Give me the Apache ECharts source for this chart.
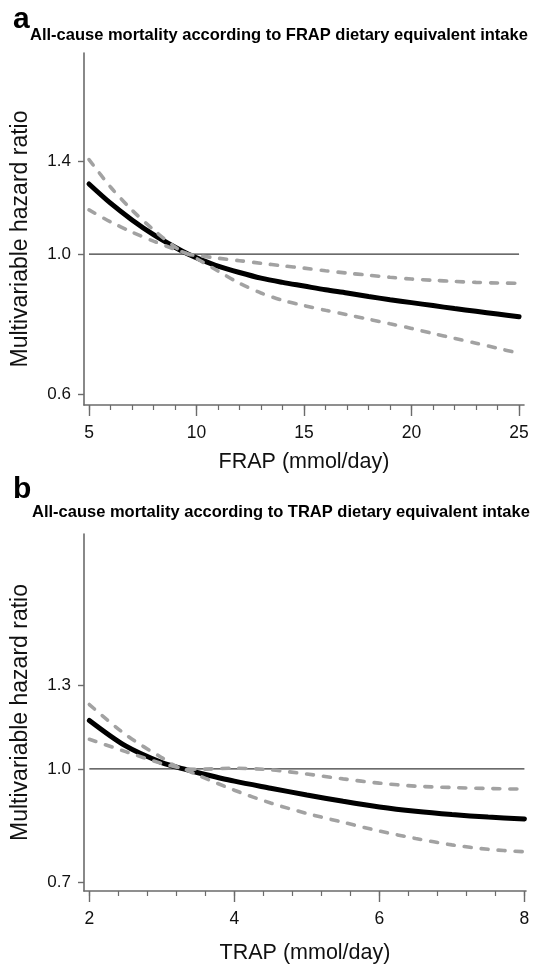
<!DOCTYPE html>
<html><head><meta charset="utf-8">
<script src="https://cdn.jsdelivr.net/npm/echarts@6/dist/echarts.min.js"></script>
<style>html,body{margin:0;padding:0;background:#fff}#c{width:540px;height:965px}</style>
</head><body><div id="c"></div>
<script>
// Panel a: FRAP
const frapX     = [5, 6, 7, 8, 9, 9.6, 10.2, 11, 12, 13, 14, 15, 16, 17, 18, 19, 20, 21, 22, 23, 24, 25];
const frapHR    = [1.290, 1.203, 1.132, 1.073, 1.025, 1.0, 0.980, 0.957, 0.935, 0.916, 0.902, 0.890, 0.878, 0.868, 0.857, 0.847, 0.838, 0.829, 0.820, 0.812, 0.804, 0.796];
const frapUpper = [1.410, 1.276, 1.173, 1.092, 1.026, 1.0, 0.993, 0.985, 0.976, 0.967, 0.958, 0.950, 0.941, 0.933, 0.926, 0.919, 0.913, 0.909, 0.905, 0.902, 0.900, 0.899];
const frapLower = [1.174, 1.124, 1.083, 1.048, 1.017, 1.0, 0.975, 0.940, 0.899, 0.868, 0.845, 0.829, 0.815, 0.802, 0.789, 0.776, 0.763, 0.749, 0.736, 0.723, 0.710, 0.697];
const frapRef   = [[5, 1.0], [25, 1.0]];
const frapMajorTicks = [5, 10, 15, 20, 25];
const frapMinorTicks = [5,6,7,8,9,10,11,12,13,14,15,16,17,18,19,20,21,22,23,24,25];
const frapYTicks = [0.6, 1.0, 1.4];

// Panel b: TRAP
const trapX     = [2, 2.5, 3, 3.3, 3.5, 4, 4.5, 5, 5.5, 6, 6.5, 7, 7.5, 8];
const trapHR    = [1.165, 1.075, 1.020, 1.0, 0.988, 0.962, 0.941, 0.921, 0.903, 0.887, 0.875, 0.866, 0.859, 0.854];
const trapUpper = [1.225, 1.114, 1.036, 1.0, 0.999, 1.002, 0.997, 0.984, 0.969, 0.956, 0.947, 0.943, 0.940, 0.938];
const trapLower = [1.098, 1.056, 1.017, 1.0, 0.980, 0.935, 0.898, 0.869, 0.845, 0.822, 0.803, 0.787, 0.776, 0.770];
const trapRef   = [[2, 1.0], [8, 1.0]];
const trapMajorTicks = [2, 4, 6, 8];
const trapMinorTicks = [2,2.4,2.8,3.2,3.6,4,4.4,4.8,5.2,5.6,6,6.4,6.8,7.2,7.6,8];
const trapYTicks = [0.7, 1.0, 1.3];

const titleA = 'All-cause mortality according to FRAP dietary equivalent intake';
const titleB = 'All-cause mortality according to TRAP dietary equivalent intake';
const yName = 'Multivariable hazard ratio';

const FONT = '"Liberation Sans", Arial, sans-serif';
const AXIS_COLOR = '#6b6b6b';
const ln = Math.log;
const pairs = (xs, ys) => xs.map((x, i) => [x, ln(ys[i])]);

function xAxes(grid, min, max, major, minor, name, nameGap) {
  return [{
    gridIndex: grid, type: 'value', position: 'bottom', min, max,
    name, nameLocation: 'middle', nameGap,
    nameTextStyle: {fontFamily: FONT, fontSize: 21.5, color: '#111'},
    axisLine: {show: true, onZero: false, lineStyle: {color: AXIS_COLOR, width: 1.6}},
    axisTick: {show: true, customValues: major, length: 11, lineStyle: {color: AXIS_COLOR, width: 1.4}},
    axisLabel: {show: true, customValues: major, margin: 19, fontFamily: FONT, fontSize: 17.5, color: '#111'},
    splitLine: {show: false}
  }, {
    gridIndex: grid, type: 'value', position: 'bottom', min, max,
    axisLine: {show: false, onZero: false},
    axisTick: {show: true, customValues: minor, length: 5, lineStyle: {color: AXIS_COLOR, width: 1.2}},
    axisLabel: {show: false},
    splitLine: {show: false}
  }];
}
function yAxis(grid, min, max, ticks, pad) {
  const tv = ticks.map(ln);
  return {
    gridIndex: grid, type: 'value', min, max,
    name: yName, nameLocation: 'middle', nameGap: 52, nameRotate: 90,
    nameTextStyle: {fontFamily: FONT, fontSize: 23, color: '#111', padding: pad},
    axisLine: {show: true, onZero: false, lineStyle: {color: AXIS_COLOR, width: 1.6}},
    axisTick: {show: true, customValues: tv, length: 6, lineStyle: {color: AXIS_COLOR, width: 1.4}},
    axisLabel: {show: true, customValues: tv, margin: 13, fontFamily: FONT, fontSize: 17, color: '#111',
      formatter: v => Math.exp(v).toFixed(1)},
    splitLine: {show: false}
  };
}
function seriesFor(xi, yi, xs, hr, up, lo, ref) {
  const dashed = {color: '#a2a2a2', width: 3.6, type: [7, 10], cap: 'round'};
  const common = {xAxisIndex: xi, yAxisIndex: yi, showSymbol: false, symbol: 'none', smooth: 0.3};
  return [
    {type: 'line', xAxisIndex: xi, yAxisIndex: yi, data: ref.map(p => [p[0], ln(p[1])]), showSymbol: false, symbol: 'none',
     lineStyle: {color: '#3a3a3a', width: 1.3}, z: 1},
    Object.assign({type: 'line', data: pairs(xs, hr), lineStyle: {color: '#000', width: 5, cap: 'round'}, z: 2}, common),
    Object.assign({type: 'line', data: pairs(xs, up), lineStyle: dashed, z: 3}, common),
    Object.assign({type: 'line', data: pairs(xs, lo), lineStyle: dashed, z: 3}, common)
  ];
}

const chart = echarts.init(document.getElementById('c'), null, {renderer: 'canvas'});
chart.setOption({
  animation: false,
  backgroundColor: '#fff',
  title: [
    {text: 'a', left: 8, top: 0, textStyle: {fontFamily: FONT, fontSize: 30, fontWeight: 'bold', color: '#000'}},
    {text: titleA, left: 25, top: 22, textStyle: {fontFamily: FONT, fontSize: 16.5, fontWeight: 'bold', color: '#000'}},
    {text: 'b', left: 8, top: 470, textStyle: {fontFamily: FONT, fontSize: 30, fontWeight: 'bold', color: '#000'}},
    {text: titleB, left: 27, top: 499, textStyle: {fontFamily: FONT, fontSize: 16.5, fontWeight: 'bold', color: '#000'}}
  ],
  grid: [
    {left: 84, top: 53, width: 440, height: 352},
    {left: 84, top: 534, width: 442, height: 358}
  ],
  xAxis: [
    ...xAxes(0, 4.767, 25.23, frapMajorTicks, frapMinorTicks, 'FRAP (mmol/day)', 46),
    ...xAxes(1, 1.926, 8.022, trapMajorTicks, trapMinorTicks, 'TRAP (mmol/day)', 51)
  ],
  yAxis: [
    yAxis(0, -0.549, 0.731, frapYTicks, [0, 20, 0, 0]),
    yAxis(1, -0.385, 0.7406, trapYTicks, [0, 0, 0, 0])
  ],
  series: [
    ...seriesFor(0, 0, frapX, frapHR, frapUpper, frapLower, frapRef),
    ...seriesFor(2, 1, trapX, trapHR, trapUpper, trapLower, trapRef)
  ]
});
</script></body></html>
